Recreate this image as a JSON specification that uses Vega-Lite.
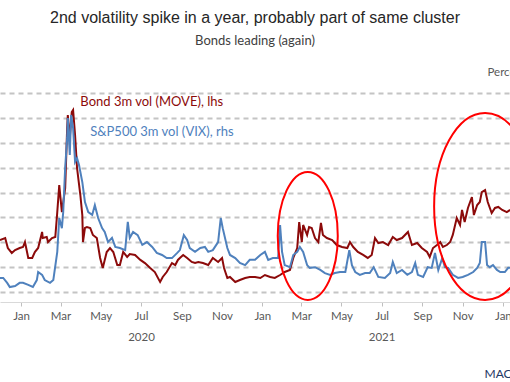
{
  "$schema": "https://vega.github.io/schema/vega-lite/v6.json",
  "width": 510,
  "height": 209,
  "autosize": {"type": "none"},
  "padding": {"top": 93, "bottom": 80, "left": 0, "right": 0},
  "background": "white",
  "title": {
    "text": "2nd volatility spike in a year, probably part of same cluster",
    "subtitle": "Bonds leading (again)",
    "anchor": "middle",
    "font": "Liberation Sans",
    "fontSize": 16,
    "fontWeight": "normal",
    "color": "#262626",
    "subtitleFont": "Lato",
    "subtitleFontSize": 13,
    "subtitleColor": "#404040",
    "subtitlePadding": 9,
    "offset": 18
  },
  "config": {
    "view": {"stroke": null},
    "axis": {"labelFont": "Lato", "labelColor": "#595959", "labelFontSize": 11.5, "titleFont": "Lato", "titleFontWeight": "normal"}
  },
  "datasets": {
    "move": [
      {"date": "2019-11-30", "v": 61.8}, {"date": "2019-12-08", "v": 63.4}, {"date": "2019-12-12", "v": 55.4}, {"date": "2019-12-18", "v": 51.4},
      {"date": "2019-12-23", "v": 53.8}, {"date": "2019-12-30", "v": 55.4}, {"date": "2020-01-04", "v": 56.2}, {"date": "2020-01-07", "v": 60.2},
      {"date": "2020-01-12", "v": 47.4}, {"date": "2020-01-18", "v": 47.4}, {"date": "2020-01-22", "v": 52.2}, {"date": "2020-01-27", "v": 55.4},
      {"date": "2020-02-02", "v": 68.3}, {"date": "2020-02-03", "v": 63.4}, {"date": "2020-02-09", "v": 64.2}, {"date": "2020-02-11", "v": 60.2},
      {"date": "2020-02-17", "v": 63.4}, {"date": "2020-02-22", "v": 64.2}, {"date": "2020-02-25", "v": 84.3}, {"date": "2020-02-28", "v": 106.0},
      {"date": "2020-03-03", "v": 84.3}, {"date": "2020-03-08", "v": 103.6}, {"date": "2020-03-11", "v": 151.9}, {"date": "2020-03-12", "v": 162.3},
      {"date": "2020-03-15", "v": 143.8}, {"date": "2020-03-18", "v": 164.7}, {"date": "2020-03-20", "v": 166.3}, {"date": "2020-03-23", "v": 146.2},
      {"date": "2020-03-26", "v": 119.7}, {"date": "2020-03-31", "v": 98.0}, {"date": "2020-04-03", "v": 81.9}, {"date": "2020-04-04", "v": 60.2},
      {"date": "2020-04-07", "v": 71.5}, {"date": "2020-04-10", "v": 72.3}, {"date": "2020-04-15", "v": 71.5}, {"date": "2020-04-19", "v": 65.9},
      {"date": "2020-04-25", "v": 63.4}, {"date": "2020-04-30", "v": 47.4}, {"date": "2020-05-04", "v": 39.3}, {"date": "2020-05-10", "v": 52.2},
      {"date": "2020-05-15", "v": 55.4}, {"date": "2020-05-20", "v": 52.2}, {"date": "2020-05-26", "v": 41.7}, {"date": "2020-05-30", "v": 41.7},
      {"date": "2020-06-04", "v": 52.2}, {"date": "2020-06-10", "v": 48.2}, {"date": "2020-06-14", "v": 50.6}, {"date": "2020-06-22", "v": 49.8},
      {"date": "2020-06-30", "v": 45.8}, {"date": "2020-07-07", "v": 43.3}, {"date": "2020-07-15", "v": 39.3}, {"date": "2020-07-22", "v": 36.1},
      {"date": "2020-07-30", "v": 28.1}, {"date": "2020-08-03", "v": 32.1}, {"date": "2020-08-09", "v": 36.1}, {"date": "2020-08-17", "v": 43.3},
      {"date": "2020-08-22", "v": 41.7}, {"date": "2020-08-26", "v": 45.8}, {"date": "2020-08-29", "v": 47.4}, {"date": "2020-09-03", "v": 49.8},
      {"date": "2020-09-09", "v": 47.4}, {"date": "2020-09-16", "v": 44.2}, {"date": "2020-09-21", "v": 43.3}, {"date": "2020-09-26", "v": 44.2},
      {"date": "2020-10-03", "v": 43.3}, {"date": "2020-10-11", "v": 41.7}, {"date": "2020-10-18", "v": 47.4}, {"date": "2020-10-26", "v": 44.2},
      {"date": "2020-11-01", "v": 47.4}, {"date": "2020-11-04", "v": 39.3}, {"date": "2020-11-09", "v": 31.3}, {"date": "2020-11-13", "v": 32.1},
      {"date": "2020-11-21", "v": 28.1}, {"date": "2020-11-28", "v": 29.7}, {"date": "2020-12-06", "v": 31.3}, {"date": "2020-12-13", "v": 32.1},
      {"date": "2020-12-21", "v": 32.1}, {"date": "2020-12-29", "v": 31.3}, {"date": "2021-01-05", "v": 33.7}, {"date": "2021-01-13", "v": 32.1},
      {"date": "2021-01-20", "v": 31.3}, {"date": "2021-01-28", "v": 33.7}, {"date": "2021-02-04", "v": 36.1}, {"date": "2021-02-12", "v": 37.7},
      {"date": "2021-02-17", "v": 47.4}, {"date": "2021-02-23", "v": 55.4}, {"date": "2021-02-26", "v": 76.3}, {"date": "2021-03-02", "v": 60.2},
      {"date": "2021-03-04", "v": 73.9}, {"date": "2021-03-10", "v": 65.9}, {"date": "2021-03-13", "v": 72.3}, {"date": "2021-03-17", "v": 71.5},
      {"date": "2021-03-22", "v": 63.4}, {"date": "2021-03-27", "v": 60.2}, {"date": "2021-03-31", "v": 75.5}, {"date": "2021-04-03", "v": 65.9},
      {"date": "2021-04-09", "v": 63.4}, {"date": "2021-04-17", "v": 61.8}, {"date": "2021-04-24", "v": 57.8}, {"date": "2021-05-02", "v": 56.2},
      {"date": "2021-05-10", "v": 55.4}, {"date": "2021-05-14", "v": 60.2}, {"date": "2021-05-19", "v": 56.2}, {"date": "2021-05-26", "v": 52.2},
      {"date": "2021-06-03", "v": 49.8}, {"date": "2021-06-10", "v": 47.4}, {"date": "2021-06-16", "v": 49.8}, {"date": "2021-06-21", "v": 63.4},
      {"date": "2021-06-26", "v": 59.4}, {"date": "2021-07-03", "v": 60.2}, {"date": "2021-07-11", "v": 57.8}, {"date": "2021-07-18", "v": 64.2},
      {"date": "2021-07-24", "v": 61.8}, {"date": "2021-08-01", "v": 63.4}, {"date": "2021-08-10", "v": 68.3}, {"date": "2021-08-16", "v": 57.8},
      {"date": "2021-08-24", "v": 59.4}, {"date": "2021-08-31", "v": 55.4}, {"date": "2021-09-08", "v": 52.2}, {"date": "2021-09-12", "v": 48.2},
      {"date": "2021-09-17", "v": 55.4}, {"date": "2021-09-23", "v": 57.8}, {"date": "2021-09-28", "v": 60.2}, {"date": "2021-10-02", "v": 56.2},
      {"date": "2021-10-08", "v": 57.8}, {"date": "2021-10-13", "v": 60.2}, {"date": "2021-10-17", "v": 65.9}, {"date": "2021-10-23", "v": 79.5},
      {"date": "2021-10-28", "v": 73.9}, {"date": "2021-10-31", "v": 86.0}, {"date": "2021-11-04", "v": 76.3}, {"date": "2021-11-09", "v": 87.6},
      {"date": "2021-11-15", "v": 96.4}, {"date": "2021-11-18", "v": 81.9}, {"date": "2021-11-23", "v": 90.0}, {"date": "2021-11-27", "v": 92.4},
      {"date": "2021-11-30", "v": 100.4}, {"date": "2021-12-05", "v": 102.0}, {"date": "2021-12-09", "v": 92.4}, {"date": "2021-12-15", "v": 83.5},
      {"date": "2021-12-20", "v": 87.6}, {"date": "2021-12-25", "v": 88.4}, {"date": "2021-12-31", "v": 86.0}, {"date": "2022-01-07", "v": 84.3},
      {"date": "2022-01-12", "v": 86.0}
    ],
    "vix": [
      {"date": "2019-11-30", "v": 16.9}, {"date": "2019-12-05", "v": 16.9}, {"date": "2019-12-11", "v": 15.5}, {"date": "2019-12-15", "v": 14.3},
      {"date": "2019-12-23", "v": 14.6}, {"date": "2019-12-30", "v": 15.5}, {"date": "2020-01-04", "v": 15.5}, {"date": "2020-01-12", "v": 14.9},
      {"date": "2020-01-19", "v": 14.3}, {"date": "2020-01-25", "v": 16.3}, {"date": "2020-01-27", "v": 18.6}, {"date": "2020-02-02", "v": 17.8},
      {"date": "2020-02-06", "v": 16.3}, {"date": "2020-02-14", "v": 15.5}, {"date": "2020-02-19", "v": 16.3}, {"date": "2020-02-25", "v": 24.4},
      {"date": "2020-02-28", "v": 34.1}, {"date": "2020-03-03", "v": 31.2}, {"date": "2020-03-05", "v": 35.8}, {"date": "2020-03-08", "v": 48.5},
      {"date": "2020-03-11", "v": 57.1}, {"date": "2020-03-12", "v": 62.8}, {"date": "2020-03-15", "v": 52.2}, {"date": "2020-03-17", "v": 63.7},
      {"date": "2020-03-20", "v": 60.0}, {"date": "2020-03-23", "v": 50.2}, {"date": "2020-03-26", "v": 51.3}, {"date": "2020-03-29", "v": 49.3},
      {"date": "2020-04-03", "v": 44.4}, {"date": "2020-04-07", "v": 38.7}, {"date": "2020-04-12", "v": 35.8}, {"date": "2020-04-18", "v": 35.0},
      {"date": "2020-04-22", "v": 37.8}, {"date": "2020-04-27", "v": 34.1}, {"date": "2020-05-03", "v": 31.2}, {"date": "2020-05-07", "v": 30.1},
      {"date": "2020-05-12", "v": 27.2}, {"date": "2020-05-18", "v": 28.4}, {"date": "2020-05-23", "v": 25.8}, {"date": "2020-05-30", "v": 25.5},
      {"date": "2020-06-07", "v": 24.9}, {"date": "2020-06-11", "v": 33.0}, {"date": "2020-06-14", "v": 28.4}, {"date": "2020-06-19", "v": 30.1},
      {"date": "2020-06-26", "v": 29.2}, {"date": "2020-07-03", "v": 26.4}, {"date": "2020-07-10", "v": 27.2}, {"date": "2020-07-18", "v": 25.8},
      {"date": "2020-07-25", "v": 24.1}, {"date": "2020-08-02", "v": 23.5}, {"date": "2020-08-09", "v": 22.6}, {"date": "2020-08-17", "v": 22.6},
      {"date": "2020-08-25", "v": 24.1}, {"date": "2020-08-29", "v": 24.9}, {"date": "2020-09-04", "v": 29.2}, {"date": "2020-09-09", "v": 27.8},
      {"date": "2020-09-13", "v": 25.5}, {"date": "2020-09-21", "v": 24.4}, {"date": "2020-09-29", "v": 25.5}, {"date": "2020-10-06", "v": 25.8},
      {"date": "2020-10-11", "v": 24.4}, {"date": "2020-10-18", "v": 24.9}, {"date": "2020-10-26", "v": 27.2}, {"date": "2020-10-30", "v": 34.1},
      {"date": "2020-11-02", "v": 31.2}, {"date": "2020-11-09", "v": 25.5}, {"date": "2020-11-13", "v": 23.5}, {"date": "2020-11-21", "v": 22.6},
      {"date": "2020-11-28", "v": 21.2}, {"date": "2020-12-06", "v": 20.6}, {"date": "2020-12-13", "v": 22.1}, {"date": "2020-12-21", "v": 22.1},
      {"date": "2020-12-29", "v": 23.5}, {"date": "2021-01-05", "v": 24.4}, {"date": "2021-01-10", "v": 22.1}, {"date": "2021-01-17", "v": 22.6},
      {"date": "2021-01-25", "v": 22.6}, {"date": "2021-01-28", "v": 32.1}, {"date": "2021-01-31", "v": 24.4}, {"date": "2021-02-04", "v": 20.6},
      {"date": "2021-02-12", "v": 20.0}, {"date": "2021-02-17", "v": 23.5}, {"date": "2021-02-23", "v": 24.4}, {"date": "2021-02-27", "v": 25.8},
      {"date": "2021-03-04", "v": 24.4}, {"date": "2021-03-10", "v": 20.6}, {"date": "2021-03-14", "v": 19.8}, {"date": "2021-03-22", "v": 20.0},
      {"date": "2021-03-30", "v": 19.2}, {"date": "2021-04-06", "v": 18.3}, {"date": "2021-04-14", "v": 17.8}, {"date": "2021-04-21", "v": 18.3},
      {"date": "2021-04-29", "v": 18.6}, {"date": "2021-05-07", "v": 18.6}, {"date": "2021-05-13", "v": 24.9}, {"date": "2021-05-17", "v": 20.6},
      {"date": "2021-05-22", "v": 18.6}, {"date": "2021-05-29", "v": 17.8}, {"date": "2021-06-06", "v": 18.3}, {"date": "2021-06-13", "v": 18.3},
      {"date": "2021-06-19", "v": 20.0}, {"date": "2021-06-26", "v": 17.2}, {"date": "2021-07-06", "v": 16.9}, {"date": "2021-07-14", "v": 18.3},
      {"date": "2021-07-18", "v": 21.5}, {"date": "2021-07-24", "v": 18.3}, {"date": "2021-08-01", "v": 19.2}, {"date": "2021-08-09", "v": 17.8},
      {"date": "2021-08-16", "v": 18.6}, {"date": "2021-08-21", "v": 21.2}, {"date": "2021-08-25", "v": 17.8}, {"date": "2021-09-02", "v": 17.2},
      {"date": "2021-09-09", "v": 20.0}, {"date": "2021-09-15", "v": 19.8}, {"date": "2021-09-20", "v": 24.1}, {"date": "2021-09-25", "v": 19.2},
      {"date": "2021-10-01", "v": 22.6}, {"date": "2021-10-05", "v": 20.0}, {"date": "2021-10-10", "v": 19.8}, {"date": "2021-10-17", "v": 17.8},
      {"date": "2021-10-25", "v": 16.9}, {"date": "2021-11-01", "v": 17.2}, {"date": "2021-11-09", "v": 17.8}, {"date": "2021-11-17", "v": 18.6},
      {"date": "2021-11-23", "v": 19.8}, {"date": "2021-11-27", "v": 21.2}, {"date": "2021-11-30", "v": 27.2}, {"date": "2021-12-05", "v": 27.2},
      {"date": "2021-12-08", "v": 20.6}, {"date": "2021-12-12", "v": 20.0}, {"date": "2021-12-17", "v": 20.6}, {"date": "2021-12-23", "v": 19.2},
      {"date": "2021-12-28", "v": 18.6}, {"date": "2022-01-04", "v": 18.6}, {"date": "2022-01-09", "v": 19.8}, {"date": "2022-01-12", "v": 19.8}
    ],
    "labelsMove": [{"date": "2020-03-31", "v": 172.8, "label": "Bond 3m vol (MOVE), lhs"}],
    "labelsVix": [{"date": "2020-04-15", "v": 58.7, "label": "S&P500 3m vol (VIX), rhs"}],
    "circle1": [{"date": "2021-03-11", "v": 65.1}],
    "circle2": [{"date": "2021-12-05", "v": 88.8}]
  },
  "layer": [
    {
      "data": {"name": "move"},
      "mark": {"type": "line", "color": "#8c0a0a", "strokeWidth": 2},
      "encoding": {
        "x": {
          "field": "date", "type": "temporal",
          "scale": {"domain": [{"year": 2019, "month": 11, "date": 30, "hours": 3}, {"year": 2022, "month": 1, "date": 11, "hours": 19}]},
          "axis": {
            "values": [
              {"year": 2020, "month": 1, "date": 1}, {"year": 2020, "month": 3, "date": 1}, {"year": 2020, "month": 5, "date": 1},
              {"year": 2020, "month": 7, "date": 1}, {"year": 2020, "month": 9, "date": 1}, {"year": 2020, "month": 11, "date": 1},
              {"year": 2021, "month": 1, "date": 1}, {"year": 2021, "month": 3, "date": 1}, {"year": 2021, "month": 5, "date": 1},
              {"year": 2021, "month": 7, "date": 1}, {"year": 2021, "month": 9, "date": 1}, {"year": 2021, "month": 11, "date": 1},
              {"year": 2022, "month": 1, "date": 1}
            ],
            "labelExpr": "month(datum.value) == 6 ? [timeFormat(datum.value, '%b'), timeFormat(datum.value, '%Y')] : timeFormat(datum.value, '%b')",
            "labelLineHeight": 21,
            "labelPadding": 4,
            "labelFlush": false,
            "labelOverlap": false,
            "labelBound": false,
            "grid": false,
            "domainColor": "#d9d9d9",
            "domainWidth": 1,
            "tickColor": "#bfbfbf",
            "tickSize": 4,
            "title": "MACROBOND",
            "titleColor": "#1f3864",
            "titleFontSize": 12,
            "titleX": 484,
            "titleY": 71,
            "titleAlign": "left",
            "titleBaseline": "middle"
          }
        },
        "y": {
          "field": "v", "type": "quantitative",
          "scale": {"domain": [12, 180], "nice": false, "zero": false},
          "axis": {
            "values": [20, 40, 60, 80, 100, 120, 140, 160, 180],
            "labels": false, "ticks": false, "domain": false, "title": null,
            "grid": true, "gridDash": [5, 4], "gridColor": "#c4c4c4", "gridWidth": 1.8
          }
        }
      }
    },
    {
      "data": {"name": "vix"},
      "mark": {"type": "line", "color": "#4f81bd", "strokeWidth": 2},
      "encoding": {
        "x": {"field": "date", "type": "temporal"},
        "y": {
          "field": "v", "type": "quantitative",
          "scale": {"domain": [10, 70], "nice": false, "zero": false},
          "axis": {
            "orient": "right",
            "labels": false, "ticks": false, "domain": false, "grid": false,
            "title": "Percent",
            "titleAngle": 0,
            "titleX": -23,
            "titleY": -21,
            "titleAlign": "left",
            "titleBaseline": "middle",
            "titleColor": "#595959",
            "titleFontSize": 11.5
          }
        }
      }
    },
    {
      "data": {"name": "labelsMove"},
      "mark": {"type": "text", "align": "left", "baseline": "middle", "font": "Lato", "fontSize": 13, "color": "#8c0a0a"},
      "encoding": {
        "x": {"field": "date", "type": "temporal"},
        "y": {"field": "v", "type": "quantitative", "scale": {"domain": [12, 180], "nice": false, "zero": false}, "axis": null},
        "text": {"field": "label"}
      }
    },
    {
      "data": {"name": "labelsVix"},
      "mark": {"type": "text", "align": "left", "baseline": "middle", "font": "Lato", "fontSize": 13, "color": "#4f81bd"},
      "encoding": {
        "x": {"field": "date", "type": "temporal"},
        "y": {"field": "v", "type": "quantitative", "scale": {"domain": [10, 70], "nice": false, "zero": false}, "axis": null},
        "text": {"field": "label"}
      }
    },
    {
      "data": {"name": "circle1"},
      "mark": {"type": "point", "filled": false, "stroke": "#ff0000", "strokeWidth": 2, "opacity": 1, "size": 16384,
        "shape": "M0,-1C0.259,-1 0.469,-0.552 0.469,0C0.469,0.552 0.259,1 0,1C-0.259,1 -0.469,0.552 -0.469,0C-0.469,-0.552 -0.259,-1 0,-1Z"},
      "encoding": {
        "x": {"field": "date", "type": "temporal"},
        "y": {"field": "v", "type": "quantitative", "scale": {"domain": [12, 180], "nice": false, "zero": false}, "axis": null}
      }
    },
    {
      "data": {"name": "circle2"},
      "mark": {"type": "point", "filled": false, "stroke": "#ff0000", "strokeWidth": 2, "opacity": 1, "size": 34969,
        "shape": "M0,-1C0.301,-1 0.545,-0.552 0.545,0C0.545,0.552 0.301,1 0,1C-0.301,1 -0.545,0.552 -0.545,0C-0.545,-0.552 -0.301,-1 0,-1Z"},
      "encoding": {
        "x": {"field": "date", "type": "temporal"},
        "y": {"field": "v", "type": "quantitative", "scale": {"domain": [12, 180], "nice": false, "zero": false}, "axis": null}
      }
    }
  ],
  "resolve": {"scale": {"y": "independent"}, "axis": {"y": "independent"}}
}
